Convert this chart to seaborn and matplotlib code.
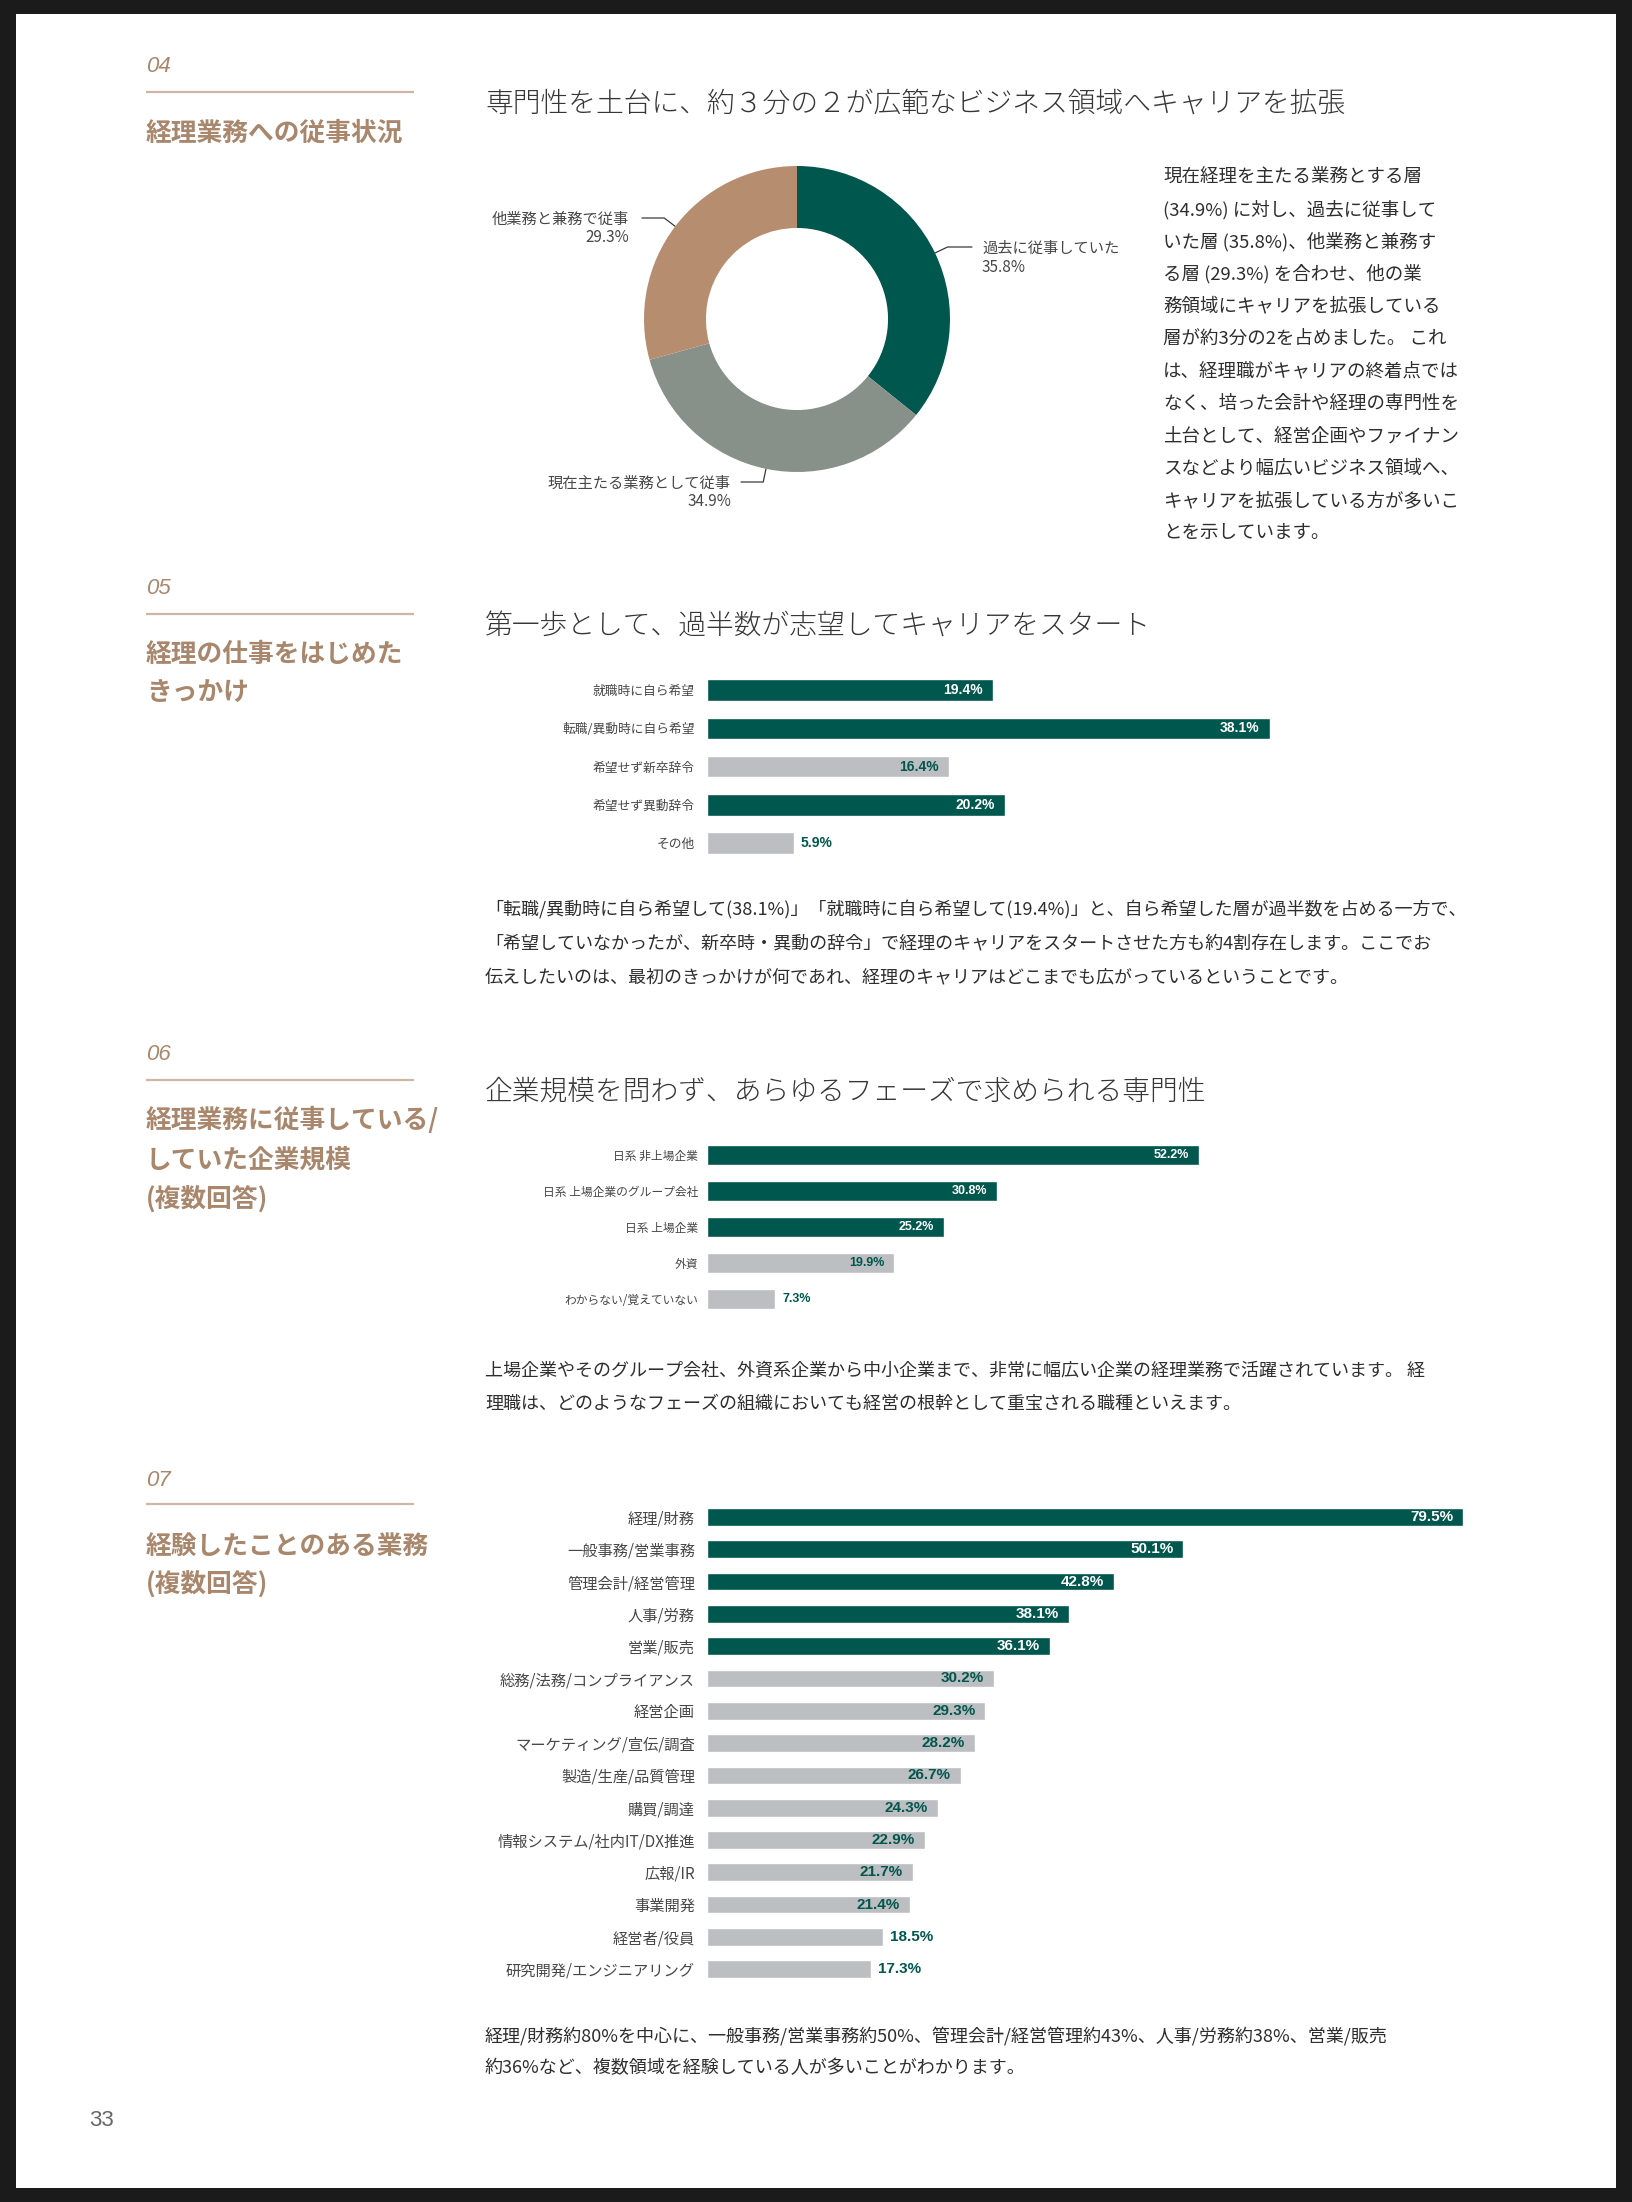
import numpy as np
import pandas as pd
import matplotlib
matplotlib.use("Agg")
import matplotlib.pyplot as plt
import seaborn as sns
from matplotlib.patches import Rectangle

sns.set_theme(style="white")
JP = ["Noto Sans CJK JP", "DejaVu Sans"]
plt.rcParams["font.family"] = JP

# ---------------- data ----------------
pie_labels = ["過去に従事していた", "現在主たる業務として従事", "他業務と兼務で従事"]
pie_values = [35.8, 34.9, 29.3]

c05_labels = ["就職時に自ら希望", "転職/異動時に自ら希望", "希望せず新卒辞令", "希望せず異動辞令", "その他"]
c05_values = [19.4, 38.1, 16.4, 20.2, 5.9]
c05_highlight = [True, True, False, True, False]

c06_labels = ["日系 非上場企業", "日系 上場企業のグループ会社", "日系 上場企業", "外資", "わからない/覚えていない"]
c06_values = [52.2, 30.8, 25.2, 19.9, 7.3]
c06_highlight = [True, True, True, False, False]

c07_labels = ["経理/財務", "一般事務/営業事務", "管理会計/経営管理", "人事/労務", "営業/販売",
              "総務/法務/コンプライアンス", "経営企画", "マーケティング/宣伝/調査", "製造/生産/品質管理",
              "購買/調達", "情報システム/社内IT/DX推進", "広報/IR", "事業開発", "経営者/役員",
              "研究開発/エンジニアリング"]
c07_values = [79.5, 50.1, 42.8, 38.1, 36.1, 30.2, 29.3, 28.2, 26.7, 24.3, 22.9, 21.7, 21.4, 18.5, 17.3]
c07_highlight = [True] * 5 + [False] * 10

titles = ["専門性を土台に、約３分の２が広範なビジネス領域へキャリアを拡張",
          "第一歩として、過半数が志望してキャリアをスタート",
          "企業規模を問わず、あらゆるフェーズで求められる専門性"]

para04 = ["現在経理を主たる業務とする層",
          "(34.9%) に対し、過去に従事して",
          "いた層 (35.8%)、他業務と兼務す",
          "る層 (29.3%) を合わせ、他の業",
          "務領域にキャリアを拡張している",
          "層が約3分の2を占めました。 これ",
          "は、経理職がキャリアの終着点では",
          "なく、培った会計や経理の専門性を",
          "土台として、経営企画やファイナン",
          "スなどより幅広いビジネス領域へ、",
          "キャリアを拡張している方が多いこ",
          "とを示しています。"]
para05 = ["「転職/異動時に自ら希望して(38.1%)」「就職時に自ら希望して(19.4%)」と、自ら希望した層が過半数を占める一方で、",
          "「希望していなかったが、新卒時・異動の辞令」で経理のキャリアをスタートさせた方も約4割存在します。ここでお",
          "伝えしたいのは、最初のきっかけが何であれ、経理のキャリアはどこまでも広がっているということです。"]
para06 = ["上場企業やそのグループ会社、外資系企業から中小企業まで、非常に幅広い企業の経理業務で活躍されています。 経",
          "理職は、どのようなフェーズの組織においても経営の根幹として重宝される職種といえます。"]
para07 = ["経理/財務約80%を中心に、一般事務/営業事務約50%、管理会計/経営管理約43%、人事/労務約38%、営業/販売",
          "約36%など、複数領域を経験している人が多いことがわかります。"]

# ---------------- style ----------------
GREEN = "#00574d"
GRAY_GREEN = "#879189"
TAN = "#b68e6f"
BAR_GRAY = "#bdbec1"
HEAD = "#a8876c"
RULE = "#ccb6a4"
TEXT = "#2e2e2e"
LABEL = "#474747"

W, H = 1632, 2202
DPI = 100
fig = plt.figure(figsize=(W / DPI, H / DPI), dpi=DPI, facecolor="#1b1b1b")
ov = fig.add_axes([0, 0, 1, 1], zorder=0)
ov.set_xlim(0, W)
ov.set_ylim(H, 0)
ov.axis("off")
ov.add_patch(Rectangle((16, 14), 1600, 2174, facecolor="white", edgecolor="none"))


def rect(x0, y0, w, h):
    return [x0 / W, 1 - (y0 + h) / H, w / W, h / H]


def section(num, y_num, y_rule, heads, y0, dy):
    ov.text(146, y_num, num, family=["Liberation Sans", "DejaVu Sans"], style="italic",
            fontsize=16, color=HEAD, va="center", ha="left")
    ov.plot([146, 414], [y_rule, y_rule], color=RULE, lw=1.6, solid_capstyle="butt")
    for i, t in enumerate(heads):
        ov.text(146, y0 + i * dy, t, fontsize=18.5, weight="bold", color=HEAD, va="center", ha="left")


def paragraph(lines, x, y0, dy, fs=13):
    for i, t in enumerate(lines):
        ov.text(x, y0 + i * dy, t, fontsize=fs, color=TEXT, va="center", ha="left")


def hbar(labels, values, highlight, c0, spacing, xscale, xmax, frac, lab_fs, val_fs, tick_pad, out_thresh):
    n = len(labels)
    ax = fig.add_axes(rect(706.5, c0 - spacing / 2, xmax * xscale, n * spacing), zorder=2)
    ax.set_facecolor("none")
    colors = [GREEN if h else BAR_GRAY for h in highlight]
    df = pd.DataFrame({"cat": labels, "val": values})
    sns.barplot(data=df, x="val", y="cat", hue="cat", palette=colors, legend=False, orient="h",
                width=frac, saturation=1, ax=ax)
    ax.set_xlim(0, xmax)
    ax.set_ylim(n - 0.5, -0.5)
    ax.set_xlabel("")
    ax.set_ylabel("")
    ax.set_xticks([])
    ax.set_yticks(range(n))
    ax.set_yticklabels(labels, fontsize=lab_fs, color=LABEL)
    ax.tick_params(axis="y", length=0, pad=tick_pad)
    sns.despine(ax=ax, left=True, bottom=True)
    for i, (v, h) in enumerate(zip(values, highlight)):
        s = f"{v}%"
        if v < out_thresh:
            ax.text(v + 7 / xscale, i, s, ha="left", va="center", fontsize=val_fs, weight="bold",
                    color=GREEN, family=["Liberation Sans", "DejaVu Sans"])
        else:
            ax.text(v - 10 / xscale, i, s, ha="right", va="center", fontsize=val_fs, weight="bold",
                    color="white" if h else GREEN, family=["Liberation Sans", "DejaVu Sans"])
    return ax


# ---------------- section 04 ----------------
section("04", 66, 92, ["経理業務への従事状況"], 133, 0)
ov.text(485, 104, titles[0], fontsize=20, weight="light", color="#363636", va="center", ha="left")

R, CX, CY = 153, 797, 319
pax = fig.add_axes(rect(CX - R, CY - R, 2 * R, 2 * R), zorder=2)
wedges, _ = pax.pie(pie_values, colors=[GREEN, GRAY_GREEN, TAN], startangle=90, counterclock=False,
                    wedgeprops=dict(width=0.405, linewidth=0))
pax.set_xlim(-1, 1)
pax.set_ylim(-1, 1)
pax.set_aspect("equal")

# label layout: (elbow y, horizontal end x, text x, alignment)
pie_layout = [(247, 972, 982, "left"), (482, 741, 731, "right"), (218, 642, 629, "right")]
for w, lab, v, (ey, hx, tx, ha) in zip(wedges, pie_labels, pie_values, pie_layout):
    th = np.deg2rad((w.theta1 + w.theta2) / 2)
    sx, sy = CX + R * np.cos(th), CY - R * np.sin(th)
    k = (sy - ey) / np.sin(th) if abs(np.sin(th)) > 1e-6 else 0
    ex, eyy = sx + k * np.cos(th), ey
    ov.plot([sx, ex, hx], [sy, eyy, ey], color="#3a3a3a", lw=0.9, zorder=3)
    ov.text(tx, ey + 1, lab, fontsize=11, color=LABEL, ha=ha, va="center")
    ov.text(tx, ey + 20, f"{v}%", fontsize=11, color=LABEL, ha=ha, va="center")

paragraph(para04, 1163, 177, 32.4, fs=13.3)

# ---------------- section 05 ----------------
section("05", 589, 614, ["経理の仕事をはじめた", "きっかけ"], 654, 39)
ov.text(485, 627, titles[1], fontsize=20, weight="light", color="#363636", va="center", ha="left")
hbar(c05_labels, c05_values, c05_highlight, 690, 38.3, 14.78, 40, 0.56, 9.2, 10, 8.3, 10)
paragraph(para05, 485, 910, 33.8)

# ---------------- section 06 ----------------
section("06", 1054, 1080, ["経理業務に従事している/", "していた企業規模", "(複数回答)"], 1120, 40)
ov.text(485, 1092, titles[2], fontsize=20, weight="light", color="#363636", va="center", ha="left")
hbar(c06_labels, c06_values, c06_highlight, 1155, 36, 9.44, 60, 0.55, 8.5, 9, 6.1, 10)
paragraph(para06, 485, 1371, 32.5)

# ---------------- section 07 ----------------
section("07", 1480, 1504, ["経験したことのある業務", "(複数回答)"], 1546, 39)
hbar(c07_labels, c07_values, c07_highlight, 1517, 32.3, 9.52, 80, 0.55, 11, 11, 8.3, 20)
paragraph(para07, 485, 2036, 32.5)

ov.text(101, 2120, "33", family=["Liberation Sans", "DejaVu Sans"], fontsize=16, color="#666666",
        ha="center", va="center")

fig.savefig("out.png", dpi=DPI, facecolor=fig.get_facecolor())
